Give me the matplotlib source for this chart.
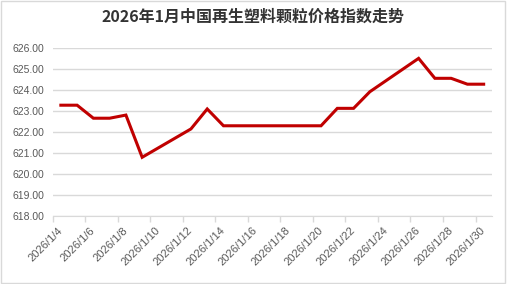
import matplotlib
matplotlib.use("AGG")
import matplotlib.pyplot as plt
import matplotlib.dates as mdates
import pandas as pd
from matplotlib.patches import Rectangle

dates = ["2026-01-04", "2026-01-05", "2026-01-06", "2026-01-07", "2026-01-08", "2026-01-09",
         "2026-01-12", "2026-01-13", "2026-01-14", "2026-01-15", "2026-01-16",
         "2026-01-19", "2026-01-20", "2026-01-21", "2026-01-22", "2026-01-23",
         "2026-01-26", "2026-01-27", "2026-01-28", "2026-01-29", "2026-01-30"]
values = [623.29, 623.29, 622.67, 622.67, 622.82, 620.81,
          622.16, 623.11, 622.31, 622.31, 622.31,
          622.31, 622.31, 623.14, 623.14, 623.93,
          625.52, 624.57, 624.57, 624.29, 624.29]
label_dates = pd.date_range("2026-01-04", "2026-01-30", freq="2D")
y_ticks = [618, 619, 620, 621, 622, 623, 624, 625, 626]

x = mdates.date2num(pd.to_datetime(dates))
lx = mdates.date2num(label_dates)

fig = plt.figure(figsize=(5.07, 2.84), dpi=100)
ax = fig.add_axes([0.104, 0.2384, 0.866, 0.5916])

ax.plot(x, values, color="#C00000", linewidth=2.2, solid_joinstyle="miter", zorder=3)

ax.set_ylim(618, 626)
ax.set_yticks(y_ticks)
ax.set_yticklabels(["%.2f" % v for v in y_ticks], fontsize=7.5, color="#595959",
                   family="Liberation Sans")
ax.yaxis.grid(True, color="#d9d9d9", linewidth=1)
ax.tick_params(axis="y", length=0, pad=6)

ax.set_xlim(lx[0] - 0.5, lx[-1] + 0.5)
# tick marks on day boundaries, labels in the middle of the day
ax.set_xticks(lx - 0.5)
ax.set_xticklabels([])
ax.tick_params(axis="x", which="major", length=4, color="#d9d9d9", width=1)
ax.set_xticks(lx, minor=True)
ax.set_xticklabels(["%d/%d/%d" % (d.year, d.month, d.day) for d in label_dates], minor=True,
                   rotation=45, ha="right", va="center", rotation_mode="anchor",
                   fontsize=8, color="#595959", family="Liberation Sans")
ax.tick_params(axis="x", which="minor", length=0, pad=9)

for s in ["left", "right", "top"]:
    ax.spines[s].set_visible(False)
ax.spines["bottom"].set_color("#d9d9d9")
ax.set_axisbelow(True)

fig.text(0.5, 0.94, "2026年1月中国再生塑料颗粒价格指数走势", ha="center", va="center",
         fontsize=11.5, fontweight="bold", color="#333333",
         family=["Noto Sans CJK SC", "DejaVu Sans"])

fig.patches.append(Rectangle((0.002, 0.003), 0.995, 0.993, transform=fig.transFigure,
                             fill=False, edgecolor="#d9d9d9", linewidth=1))

fig.savefig("out.png", dpi=100)
